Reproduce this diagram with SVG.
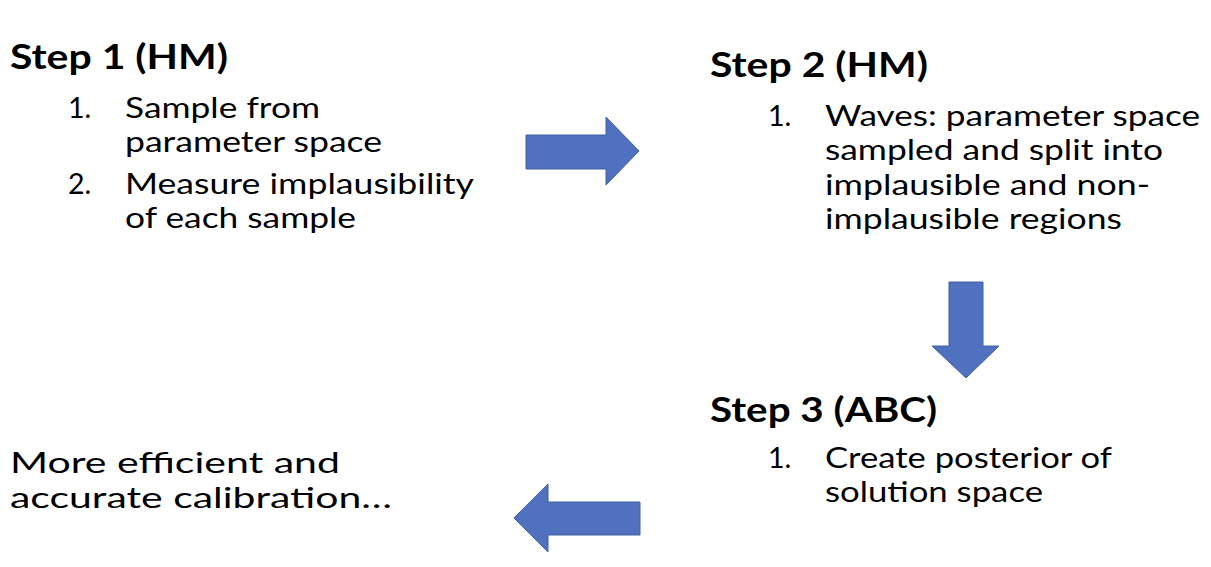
<svg xmlns="http://www.w3.org/2000/svg" width="1211" height="567" viewBox="0 0 1211 567">
<style>
.h{font-family:Lato,"Liberation Sans",sans-serif;font-weight:bold;font-size:34px;fill:#000}
.b{font-family:Lato,"Liberation Sans",sans-serif;font-size:28.5px;fill:#000}
.arr{fill:#4F71BF;stroke:#41609F;stroke-width:1}
</style>
<rect width="1211" height="567" fill="#fff"/>
<g id="step1">
<text class="h" x="10" y="69" textLength="218" lengthAdjust="spacingAndGlyphs">Step 1 (HM)</text>
<text class="b" x="68" y="118">1.</text>
<text class="b" x="125" y="118" textLength="195" lengthAdjust="spacingAndGlyphs">Sample from</text>
<text class="b" x="125" y="152" textLength="257" lengthAdjust="spacingAndGlyphs">parameter space</text>
<text class="b" x="68" y="194">2.</text>
<text class="b" x="125" y="194" textLength="349" lengthAdjust="spacingAndGlyphs">Measure implausibility</text>
<text class="b" x="125" y="228" textLength="231" lengthAdjust="spacingAndGlyphs">of each sample</text>
</g>
<g id="step2">
<text class="h" x="710" y="77" textLength="218" lengthAdjust="spacingAndGlyphs">Step 2 (HM)</text>
<text class="b" x="768" y="126">1.</text>
<text class="b" x="825" y="126" textLength="375" lengthAdjust="spacingAndGlyphs">Waves: parameter space</text>
<text class="b" x="825" y="160" textLength="338" lengthAdjust="spacingAndGlyphs">sampled and split into</text>
<text class="b" x="825" y="195" textLength="325" lengthAdjust="spacingAndGlyphs">implausible and non-</text>
<text class="b" x="825" y="229" textLength="297" lengthAdjust="spacingAndGlyphs">implausible regions</text>
</g>
<g id="step3">
<text class="h" x="710" y="422" textLength="227" lengthAdjust="spacingAndGlyphs">Step 3 (ABC)</text>
<text class="b" x="768" y="468">1.</text>
<text class="b" x="825" y="468" textLength="287" lengthAdjust="spacingAndGlyphs">Create posterior of</text>
<text class="b" x="825" y="502" textLength="218" lengthAdjust="spacingAndGlyphs">solution space</text>
</g>
<g id="result">
<text class="b" x="10" y="473" textLength="330" lengthAdjust="spacingAndGlyphs">More efficient and</text>
<text class="b" x="10" y="508" textLength="382" lengthAdjust="spacingAndGlyphs">accurate calibration…</text>
</g>
<g id="connectors">
<polygon class="arr" points="526,135 606,135 606,117 639,151 606,185 606,169 526,169"/>
<polygon class="arr" points="949,282 983,282 983,346 999,346 966,378 932,346 949,346"/>
<polygon class="arr" points="640,502 548,502 548,484 514,518 548,552 548,535 640,535"/>
</g>
</svg>
